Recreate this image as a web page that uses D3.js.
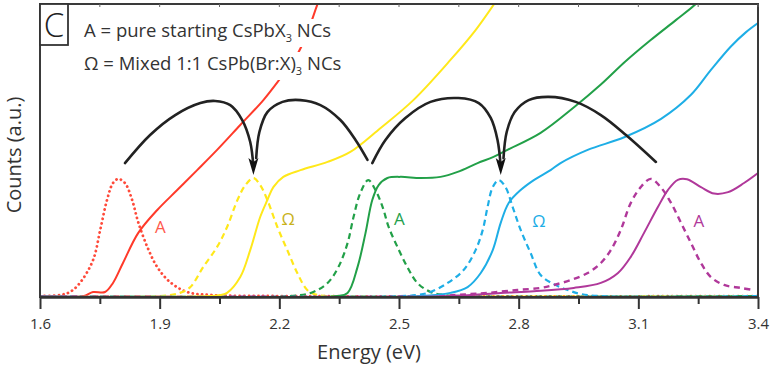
<!DOCTYPE html>
<html>
<head>
<meta charset="utf-8">
<script src="https://cdn.jsdelivr.net/npm/d3@7"></script>
<style>
  html, body { margin: 0; padding: 0; background: #fff; }
  svg { display: block; font-family: "Open Sans", "Noto Sans", sans-serif; }
</style>
</head>
<body>
<svg id="chart" width="770" height="375"></svg>
<script>
// Energy axis ticks (eV)
const xTicks = [1.6, 1.9, 2.2, 2.5, 2.8, 3.1, 3.4];
const xMinorTicks = [1.75, 2.05, 2.35, 2.65, 2.95, 3.25];

// Spectra: [energy eV, counts a.u.]
// Absorption (solid) and photoluminescence (dashed / dotted)
const redPL = [[1.600,0.3],[1.650,0.7],[1.675,1.7],[1.700,4.8],[1.733,12.6],[1.751,22.9],[1.768,33.1],[1.783,38.9],[1.796,40.3],[1.813,38.9],[1.831,33.1],[1.846,25.6],[1.869,17.1],[1.894,10.2],[1.926,5.1],[1.969,1.7],[2.027,0.7],[2.253,0.3],[3.400,0.3]];
const redAbs = [[1.600,0.2],[1.708,0.3],[1.733,1.7],[1.763,1.7],[1.783,4.8],[1.808,11.6],[1.846,21.8],[1.894,29.7],[1.944,36.5],[1.994,43.3],[2.044,50.2],[2.102,58.7],[2.160,67.2],[2.203,74.7],[2.240,81.6],[2.265,88.4],[2.295,99.7],[2.300,101.4]];
const yelPL = [[1.600,0.3],[1.901,0.3],[1.951,1.4],[1.977,3.4],[2.009,10.2],[2.044,17.1],[2.069,23.9],[2.095,33.1],[2.115,38.2],[2.135,40.6],[2.152,38.2],[2.170,33.1],[2.195,23.9],[2.220,16.0],[2.245,8.2],[2.270,2.4],[2.295,0.7],[2.353,0.3],[3.400,0.3]];
const yelAbs = [[1.600,0.2],[2.027,0.3],[2.052,0.7],[2.069,1.4],[2.102,6.8],[2.127,16.0],[2.152,27.3],[2.170,33.1],[2.185,37.5],[2.210,41.0],[2.253,43.3],[2.321,46.1],[2.378,49.5],[2.454,57.7],[2.536,67.2],[2.629,80.9],[2.692,91.1],[2.742,100.7]];
const grnPL = [[1.600,0.3],[2.228,0.3],[2.285,1.7],[2.321,4.8],[2.348,10.2],[2.371,18.4],[2.386,27.3],[2.403,35.5],[2.423,39.9],[2.441,36.5],[2.459,30.7],[2.474,23.9],[2.496,17.1],[2.521,10.2],[2.546,4.8],[2.579,1.7],[2.612,0.7],[2.654,0.3],[3.400,0.3]];
const grnAbs = [[1.600,0.2],[2.341,0.3],[2.371,1.4],[2.396,10.2],[2.416,21.8],[2.433,33.1],[2.449,38.2],[2.471,40.6],[2.504,41.0],[2.554,40.6],[2.604,41.0],[2.647,42.7],[2.697,45.7],[2.737,47.8],[2.772,50.2],[2.855,56.0],[2.941,65.0],[3.006,72.5],[3.066,80.2],[3.131,87.7],[3.194,94.5],[3.244,100.0],[3.250,101.0]];
const bluPL = [[1.600,0.3],[2.504,0.3],[2.546,0.7],[2.579,1.7],[2.622,4.8],[2.662,9.2],[2.692,16.0],[2.710,22.9],[2.722,30.7],[2.735,37.5],[2.750,39.9],[2.767,37.5],[2.785,30.7],[2.805,22.9],[2.830,15.0],[2.855,7.5],[2.888,4.4],[2.923,2.4],[2.956,1.0],[3.006,0.3],[3.400,0.3]];
const bluAbs = [[1.600,0.2],[2.554,0.3],[2.629,1.4],[2.672,3.4],[2.705,8.2],[2.735,16.0],[2.755,25.3],[2.775,32.1],[2.805,36.5],[2.838,39.9],[2.880,43.3],[2.905,45.7],[2.973,50.2],[3.066,54.6],[3.157,60.8],[3.232,69.0],[3.282,77.5],[3.332,85.5],[3.370,90.4],[3.400,93.5]];
const magPL = [[1.600,0.3],[2.579,0.3],[2.679,1.0],[2.722,1.4],[2.797,2.4],[2.855,3.1],[2.888,4.1],[2.931,5.8],[2.973,8.2],[3.006,11.6],[3.031,16.0],[3.056,22.9],[3.081,32.1],[3.106,37.5],[3.131,40.3],[3.156,37.5],[3.182,32.1],[3.207,25.3],[3.232,18.4],[3.257,11.6],[3.282,6.8],[3.315,4.1],[3.357,3.1],[3.387,2.4]];
const magAbs = [[1.600,0.2],[2.629,0.3],[2.755,1.4],[2.838,2.0],[2.938,3.1],[3.006,4.8],[3.049,8.2],[3.081,13.7],[3.114,21.8],[3.149,30.7],[3.174,36.5],[3.199,40.0],[3.222,40.2],[3.257,37.5],[3.290,35.3],[3.325,35.8],[3.365,38.9],[3.400,42.3]];

// Curved arrows linking pure and mixed samples
const arc1 = [[1.813,45.7],[1.876,55.3],[1.939,62.1],[2.002,66.2],[2.039,66.9],[2.077,65.5],[2.107,60.4],[2.127,52.9],[2.135,44.5]];
const arc2 = [[2.142,47.4],[2.150,56.3],[2.170,63.1],[2.208,66.6],[2.253,67.2],[2.303,65.5],[2.353,60.4],[2.391,53.6],[2.421,46.8]];
const arc3 = [[2.433,45.7],[2.466,53.6],[2.516,61.1],[2.579,66.6],[2.649,67.9],[2.700,66.2],[2.730,61.1],[2.747,53.6],[2.755,44.5]];
const arc4 = [[2.762,47.4],[2.770,56.3],[2.790,63.1],[2.825,67.2],[2.875,68.3],[2.943,66.6],[3.006,62.1],[3.069,55.3],[3.144,46.1]];
const arrowTips = [[2.135,41.6],[2.755,41.6]];

// Peak labels
const peakLabels = [
  {e: 1.902, c: 23.5, text: "A", color: "#ff5a4c"},
  {e: 2.222, c: 26.0, text: "Ω", color: "#c8b21c"},
  {e: 2.501, c: 26.0, text: "A", color: "#24a04c"},
  {e: 2.851, c: 25.3, text: "Ω", color: "#1eaee6"},
  {e: 3.252, c: 25.3, text: "A", color: "#b0389a"}
];

const svg = d3.select("#chart");
const M = {left: 40, right: 758, top: 4, bottom: 297};

const x = d3.scaleLinear().domain([1.6, 3.4]).range([M.left, M.right]);
const y = d3.scaleLinear().domain([0, 100]).range([M.bottom, M.top]);

const line = d3.line().x(d => x(d[0])).y(d => y(d[1])).curve(d3.curveCatmullRom.alpha(0.5));
const arcLine = d3.line().x(d => x(d[0])).y(d => y(d[1])).curve(d3.curveCatmullRom.alpha(0.5));

svg.append("clipPath").attr("id", "plotClip")
  .append("rect").attr("x", M.left).attr("y", M.top)
  .attr("width", M.right - M.left).attr("height", M.bottom - M.top);

const plot = svg.append("g").attr("clip-path", "url(#plotClip)");

const series = [
  {d: redPL,  color: "#ff4a3a", dash: "0.1,4.6", w: 2.8, cap: "round"},
  {d: yelPL,  color: "#ffe81a", dash: "6,4",     w: 2.2, cap: "butt"},
  {d: grnPL,  color: "#22a048", dash: "6,4",     w: 2.2, cap: "butt"},
  {d: bluPL,  color: "#1eaee6", dash: "6,4",     w: 2.2, cap: "butt"},
  {d: magPL,  color: "#b0389a", dash: "6,4.5",   w: 2.4, cap: "butt"},
  {d: redAbs, color: "#ff3a2a", dash: null, w: 2, cap: "butt"},
  {d: yelAbs, color: "#ffe81a", dash: null, w: 2, cap: "butt"},
  {d: grnAbs, color: "#22a048", dash: null, w: 2, cap: "butt"},
  {d: bluAbs, color: "#1eaee6", dash: null, w: 2, cap: "butt"},
  {d: magAbs, color: "#b0389a", dash: null, w: 2, cap: "butt"}
];

series.forEach(s => {
  plot.append("path")
    .attr("d", line(s.d))
    .attr("fill", "none")
    .attr("stroke", s.color)
    .attr("stroke-width", s.w)
    .attr("stroke-linecap", s.cap)
    .attr("stroke-dasharray", s.dash);
});

// Arrows
[arc1, arc2, arc3, arc4].forEach(a => {
  plot.append("path")
    .attr("d", arcLine(a))
    .attr("fill", "none")
    .attr("stroke", "#222")
    .attr("stroke-width", 2.6)
    .attr("stroke-linecap", "round");
});
arrowTips.forEach(t => {
  const tx = x(t[0]), ty = y(t[1]);
  plot.append("path")
    .attr("d", `M${tx},${ty} L${tx - 5},${ty - 17} L${tx},${ty - 13} L${tx + 5},${ty - 17} Z`)
    .attr("fill", "#111");
});

// Peak labels
peakLabels.forEach(p => {
  svg.append("text")
    .attr("x", x(p.e)).attr("y", y(p.c))
    .attr("text-anchor", "middle")
    .attr("dominant-baseline", "middle")
    .attr("font-size", 17)
    .attr("fill", p.color)
    .text(p.text);
});

// Frame
svg.append("rect")
  .attr("x", M.left).attr("y", M.top)
  .attr("width", M.right - M.left).attr("height", M.bottom - M.top)
  .attr("fill", "none").attr("stroke", "#3a3a3a").attr("stroke-width", 2);

// Top inward ticks
svg.append("g").selectAll("line").data(xTicks.concat(xMinorTicks)).join("line")
  .attr("x1", d => x(d)).attr("x2", d => x(d))
  .attr("y1", M.top).attr("y2", M.top + 3)
  .attr("stroke", "#666").attr("stroke-width", 1);

// Bottom axis
const xAxis = svg.append("g")
  .attr("transform", `translate(0,${M.bottom})`)
  .call(d3.axisBottom(x).tickValues(xTicks).tickSize(12).tickSizeOuter(0).tickFormat(d3.format(".1f")));
xAxis.select(".domain").attr("stroke", "#333").attr("stroke-width", 2.6);
xAxis.selectAll(".tick line").attr("stroke", "#333").attr("stroke-width", 2);
xAxis.selectAll(".tick text")
  .attr("font-family", "'Open Sans', sans-serif")
  .attr("font-size", 15).attr("fill", "#333").attr("dy", "1.15em");

svg.append("g").attr("transform", `translate(0,${M.bottom})`)
  .call(d3.axisBottom(x).tickValues(xMinorTicks).tickSize(7).tickFormat(""))
  .call(g => g.select(".domain").remove())
  .selectAll(".tick line").attr("stroke", "#333").attr("stroke-width", 2);

// Axis titles
svg.append("text")
  .attr("x", 369).attr("y", 359)
  .attr("text-anchor", "middle")
  .attr("font-size", 20).attr("fill", "#333")
  .text("Energy (eV)");

svg.append("text")
  .attr("transform", `translate(21,155) rotate(-90)`)
  .attr("text-anchor", "middle")
  .attr("font-size", 20).attr("fill", "#333")
  .text("Counts (a.u.)");

// Panel letter
svg.append("rect")
  .attr("x", M.left).attr("y", M.top).attr("width", 28).attr("height", 41)
  .attr("fill", "#fff").attr("stroke", "#333").attr("stroke-width", 1.8);
svg.append("text")
  .attr("x", M.left + 14).attr("y", M.top + 33)
  .attr("text-anchor", "middle")
  .attr("font-size", 33).attr("font-weight", 300).attr("fill", "#222")
  .text("C");

// Legend
const legend = svg.append("g");
function legendLine(yb, parts) {
  const bg = legend.append("rect").attr("fill", "#fff");
  const t = legend.append("text").attr("x", 84).attr("y", yb)
    .attr("font-size", 18.5).attr("fill", "#333");
  parts.forEach(p => {
    if (p.sub) {
      t.append("tspan").attr("dy", 5).attr("font-size", 11).text(p.sub);
      t.append("tspan").attr("dy", -5).text(p.after);
    } else {
      t.append("tspan").text(p.text);
    }
  });
  const b = t.node().getBBox();
  bg.attr("x", b.x - 2).attr("y", b.y + 2).attr("width", b.width + 4).attr("height", b.height);
}
legendLine(37, [{text: "A = pure starting CsPbX"}, {sub: "3", after: " NCs"}]);
legendLine(70, [{text: "Ω = Mixed 1:1 CsPb(Br:X)"}, {sub: "3", after: " NCs"}]);
</script>
</body>
</html>
